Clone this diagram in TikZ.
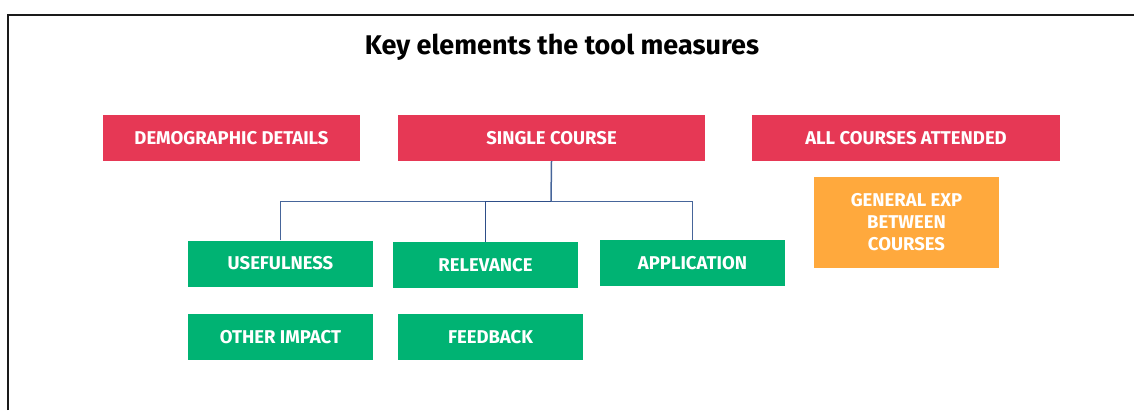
\documentclass[tikz,border=0pt]{standalone}
\usepackage{fontspec}
\setmainfont{Fira Sans}
\definecolor{catred}{HTML}{E63855}
\definecolor{catgreen}{HTML}{00B373}
\definecolor{catorange}{HTML}{FFA93D}
\definecolor{linkblue}{HTML}{46659A}
\definecolor{linkdark}{HTML}{2E4E88}
\definecolor{framegray}{HTML}{1A1A1A}
\tikzset{
  tag/.style={rectangle, inner sep=0pt, text=white,
    font=\bfseries\fontsize{18.5}{22}\selectfont, align=center},
  redtag/.style={tag, fill=catred, minimum height=46pt},
  greentag/.style={tag, fill=catgreen, minimum width=185pt, minimum height=46pt},
  orangetag/.style={tag, fill=catorange, minimum width=185pt, minimum height=91pt},
  link/.style={draw=linkblue, line width=1.5pt},
}
\begin{document}
\begin{tikzpicture}[x=1pt,y=-1pt]
  \useasboundingbox (0,0) rectangle (1134,410);
  % outer frame, open to the right and bottom
  \draw[framegray, line width=2pt] (7.5,410) -- (7.5,14.5) -- (1134,14.5);

  % heading
  \node[font=\bfseries\fontsize{27}{32}\selectfont, text=black] (title) at (562,47) {Key elements the tool measures};

  % top level categories
  \node[redtag, minimum width=257pt] (demo)   at (231.5,138) {DEMOGRAPHIC DETAILS};
  \node[redtag, minimum width=307pt] (single) at (551.5,138) {SINGLE COURSE};
  \node[redtag, minimum width=308pt] (all)    at (906,138)   {ALL COURSES ATTENDED};

  % under all courses
  \node[orangetag] (general) at (906.5,222.5) {GENERAL EXP\\BETWEEN\\COURSES};

  % under single course
  \node[greentag] (useful) at (280.5,263.5) {USEFULNESS};
  \node[greentag] (relev)  at (485.5,265)   {RELEVANCE};
  \node[greentag] (appl)   at (692.5,263)   {APPLICATION};
  \node[greentag] (other)  at (280.5,337)   {OTHER IMPACT};
  \node[greentag] (feed)   at (490.5,337)   {FEEDBACK};

  % tree connectors
  \coordinate (hub) at (551,201.5);
  \draw[link] (single.south) -- (hub);
  \draw[link] (useful.north) |- (hub) -| (appl.north);
  \draw[link, draw=linkdark, line width=1.8pt] (relev.north) |- (hub);
\end{tikzpicture}
\end{document}
